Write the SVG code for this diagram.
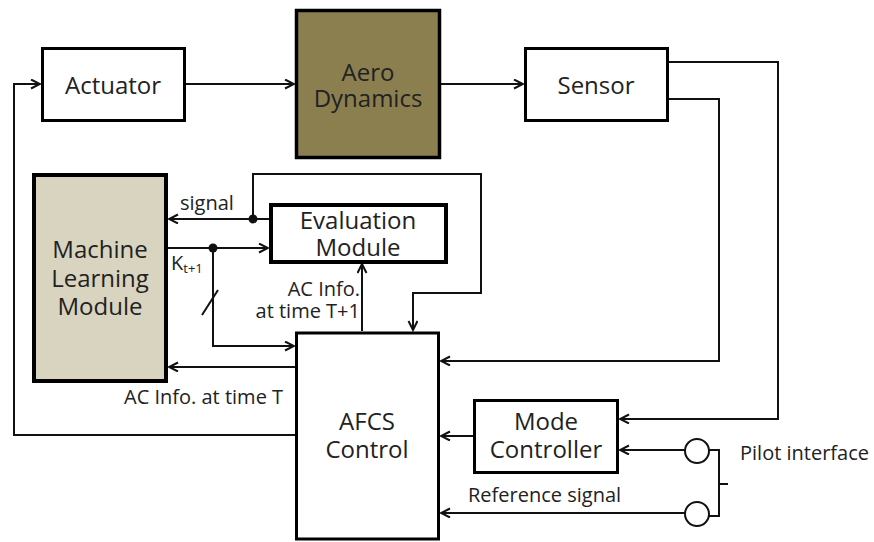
<svg xmlns="http://www.w3.org/2000/svg" width="874" height="542" viewBox="0 0 874 542">
<style>
.box{fill:#fff;stroke:#000;stroke-width:3}
.thick{stroke-width:4}
.lbl{font-family:"Open Sans","Liberation Sans",sans-serif;font-size:24px;fill:#222;text-anchor:middle}
.sm{font-family:"Open Sans","Liberation Sans",sans-serif;font-size:20px;fill:#222}
.c{fill:none;stroke:#111;stroke-width:2}
</style>
<defs>
<marker id="ar" markerWidth="12" markerHeight="12" refX="10" refY="5" orient="auto" markerUnits="userSpaceOnUse">
<path d="M1,0.5 L10,5 L1,9.5" fill="none" stroke="#111" stroke-width="2"/>
</marker>
</defs>
<rect width="874" height="542" fill="#fff"/>
<g id="connectors">
<path class="c" d="M186,84 H294" marker-end="url(#ar)"/>
<path class="c" d="M441,84 H523" marker-end="url(#ar)"/>
<path class="c" d="M669,62 H778 V419 H620" marker-end="url(#ar)"/>
<path class="c" d="M669,99 H719 V361 H441" marker-end="url(#ar)"/>
<path class="c" d="M295,435 H14 V84 H40" marker-end="url(#ar)"/>
<path class="c" d="M269,219 H169" marker-end="url(#ar)"/>
<path class="c" d="M253,219 V174 H481 V293 H413 V330" marker-end="url(#ar)"/>
<circle cx="253" cy="219" r="4.5" fill="#111"/>
<path class="c" d="M168,248 H268" marker-end="url(#ar)"/>
<circle cx="213" cy="248" r="4.5" fill="#111"/>
<path class="c" d="M213,248 V346 H294" marker-end="url(#ar)"/>
<path class="c" d="M202,315 L218,290"/>
<path class="c" d="M362,331 V264" marker-end="url(#ar)"/>
<path class="c" d="M295,367 H169" marker-end="url(#ar)"/>
<path class="c" d="M473,436 H441" marker-end="url(#ar)"/>
<path class="c" d="M685,450 H620" marker-end="url(#ar)"/>
<path class="c" d="M685,513 H441" marker-end="url(#ar)"/>
<path class="c" d="M709,450 H719 V516 H709 M719,484 H728"/>
</g>
<g id="actuator">
<rect class="box" x="42.5" y="48.5" width="142" height="72"/>
<text class="lbl" x="113" y="94">Actuator</text>
</g>
<g id="aero-dynamics">
<rect class="box" x="296.5" y="10.5" width="143" height="147" style="fill:#8b7f4f;stroke-width:3.5"/>
<text class="lbl" x="368" y="81">Aero</text>
<text class="lbl" x="368" y="107">Dynamics</text>
</g>
<g id="sensor">
<rect class="box" x="525.5" y="48.5" width="142" height="72"/>
<text class="lbl" x="596" y="94">Sensor</text>
</g>
<g id="machine-learning-module">
<rect class="box thick" x="34" y="175" width="132" height="206" style="fill:#d9d4bf"/>
<text class="lbl" x="100" y="258">Machine</text>
<text class="lbl" x="100" y="287">Learning</text>
<text class="lbl" x="100" y="315">Module</text>
</g>
<g id="evaluation-module">
<rect class="box thick" x="271" y="205" width="175" height="57"/>
<text class="lbl" x="358" y="229">Evaluation</text>
<text class="lbl" x="358" y="256">Module</text>
</g>
<g id="afcs-control">
<rect class="box" x="296.5" y="333" width="142" height="206"/>
<text class="lbl" x="367" y="430">AFCS</text>
<text class="lbl" x="367" y="458">Control</text>
</g>
<g id="mode-controller">
<rect class="box" x="474.5" y="400.5" width="143" height="72"/>
<text class="lbl" x="546" y="430">Mode</text>
<text class="lbl" x="546" y="458">Controller</text>
</g>
<g id="pilot-interface">
<circle cx="697" cy="451" r="12" fill="#fff" stroke="#111" stroke-width="2"/>
<circle cx="697" cy="514" r="12" fill="#fff" stroke="#111" stroke-width="2"/>
<text class="sm" x="740" y="460">Pilot interface</text>
</g>
<g id="labels">
<text class="sm" x="180" y="210">signal</text>
<text class="sm" x="171" y="270">K<tspan font-size="13" dy="3">t+1</tspan></text>
<text class="sm" x="360" y="296" text-anchor="end">AC Info.</text>
<text class="sm" x="360" y="318" text-anchor="end">at time T+1</text>
<text class="sm" x="124" y="404">AC Info. at time T</text>
<text class="sm" x="468" y="502">Reference signal</text>
</g>
</svg>
